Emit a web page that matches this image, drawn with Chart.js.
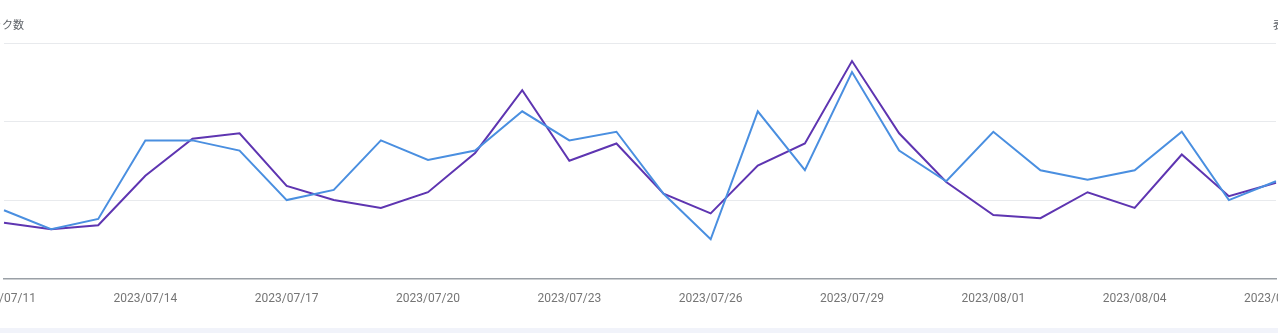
<!DOCTYPE html>
<html>
<head>
<meta charset="utf-8">
<script src="https://cdn.jsdelivr.net/npm/chart.js@4"></script>
<style>
  html, body { margin: 0; padding: 0; background: #fff; overflow: hidden; width: 1278px; height: 333px; position: relative; }
  #wrap { position: absolute; left: -60px; top: 0; width: 1400px; height: 333px; }
  .lbl { position: absolute; top: 16px; font: 11px "Noto Sans CJK JP", "Noto Sans", sans-serif; color: #5f6368; white-space: nowrap; }
  #left { right: 1254px; }
  #right { left: 1273px; }
  #band { position: absolute; left: 0; top: 328px; width: 1278px; height: 5px; background: #f1f3fa; }
</style>
</head>
<body>
<div id="wrap"><canvas id="c" width="1400" height="333"></canvas></div>
<span class="lbl" id="left">クリック数</span>
<span class="lbl" id="right">表示回数</span>
<div id="band"></div>
<script>
const categories = ["2023/07/11","2023/07/12","2023/07/13","2023/07/14","2023/07/15","2023/07/16","2023/07/17","2023/07/18","2023/07/19","2023/07/20","2023/07/21","2023/07/22","2023/07/23","2023/07/24","2023/07/25","2023/07/26","2023/07/27","2023/07/28","2023/07/29","2023/07/30","2023/07/31","2023/08/01","2023/08/02","2023/08/03","2023/08/04","2023/08/05","2023/08/06","2023/08/07"];
const clicks = [87,63,76,176,176,163,100,113,176,151,163,213,176,187,108,50,213,138,263,163,124,187,138,126,138,187,100,124];
const impressions = [71,63,68,131,178,185,118,100,90,110,160,240,150,172,108,83,144,172,277,185,123,81,77,110,90,158,105,122];
const seriesNames = ["クリック数", "表示回数"];

new Chart(document.getElementById('c'), {
  type: 'line',
  data: {
    labels: categories,
    datasets: [
      { label: seriesNames[0], data: clicks, borderColor: '#4a8fe0', borderWidth: 2, pointRadius: 0, tension: 0, fill: false },
      { label: seriesNames[1], data: impressions, borderColor: '#5e35b1', borderWidth: 2, pointRadius: 0, tension: 0, fill: false }
    ]
  },
  options: {
    responsive: false,
    animation: false,
    layout: { padding: { left: 64, right: 64, top: 43, bottom: 14 } },
    plugins: { legend: { display: false }, tooltip: { enabled: false } },
    scales: {
      x: {
        offset: false,
        grid: { display: false, drawTicks: false },
        border: { display: true, color: '#9aa0a6', width: 1.5 },
        ticks: {
          autoSkip: false, maxRotation: 0, minRotation: 0, padding: 13,
          color: '#757575', font: { family: 'Roboto', size: 12 },
          callback: function(v, i) { return i % 3 === 0 ? categories[i] : ''; }
        }
      },
      y: {
        min: 0, max: 300,
        grid: { color: function(ctx) { return ctx.tick && ctx.tick.value === 0 ? 'rgba(0,0,0,0)' : '#e8eaed'; }, drawTicks: false, lineWidth: 1 },
        border: { display: false },
        ticks: { display: false, stepSize: 100 }
      }
    }
  }
});
</script>
</body>
</html>
